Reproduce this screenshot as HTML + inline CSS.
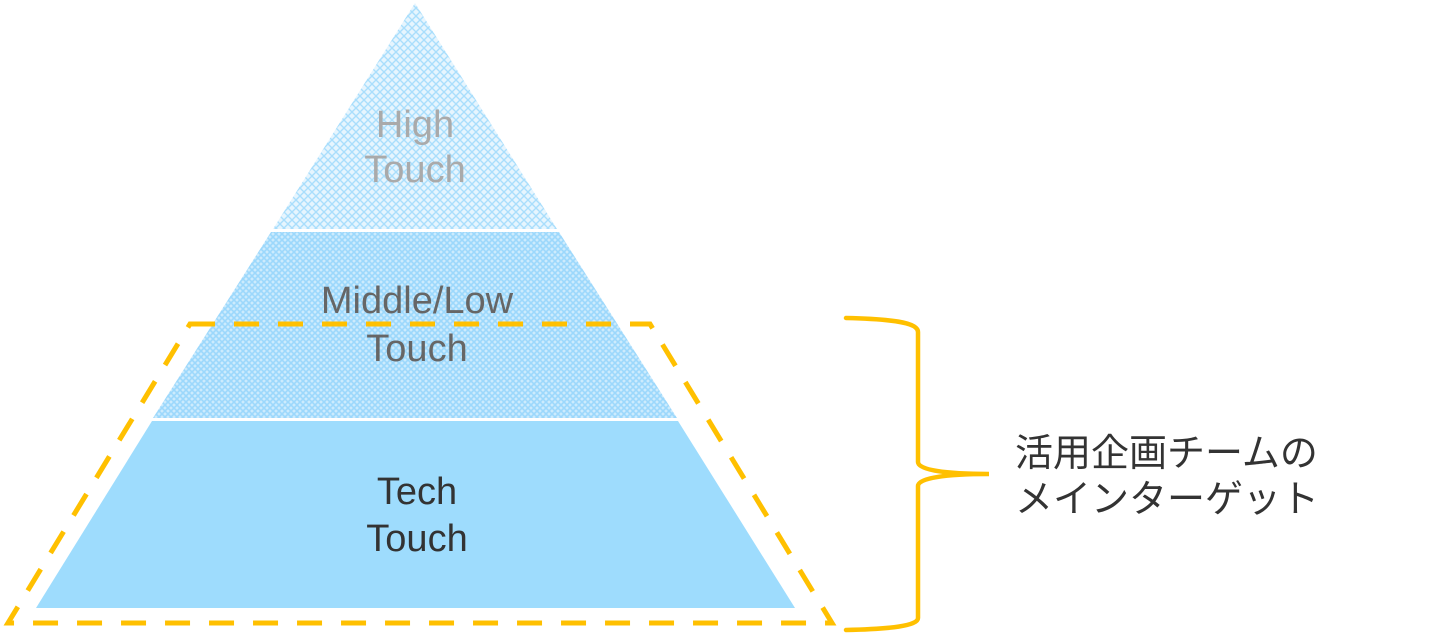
<!DOCTYPE html>
<html><head><meta charset="utf-8"><style>
html,body{margin:0;padding:0;background:#fff;}
svg{display:block}
</style></head><body>
<svg width="1440" height="633" viewBox="0 0 1440 633" xmlns="http://www.w3.org/2000/svg">
<defs>
<pattern id="p1" width="8" height="8" patternUnits="userSpaceOnUse">
<rect width="8" height="8" fill="#e6f5fe"/>
<path d="M0 0L8 8M8 0L0 8" stroke="#a9defc" stroke-width="1.4"/>
</pattern>
<pattern id="p2" width="6" height="6" patternUnits="userSpaceOnUse">
<rect width="6" height="6" fill="#cdebfd"/>
<path d="M0 0L6 6M6 0L0 6" stroke="#9cd8fc" stroke-width="1.6"/>
</pattern>
</defs>
<polygon points="415,3 273,229 557,229" fill="url(#p1)"/>
<polygon points="271,232 559,232 677,418 153,418" fill="url(#p2)"/>
<polygon points="152,421 678,421 795,608 36,608" fill="#9edcfd"/>
<polygon points="190,324 650,324 832,623 8,623" fill="none" stroke="#ffc000" stroke-width="5" stroke-dasharray="25,19"/>
<path d="M846,318 C890,319 918,322 918,332 L918,462 C918,470 945,474 989,474 C945,474 918,478 918,486 L918,618 C918,626 890,629 846,630" fill="none" stroke="#ffc000" stroke-width="4.5" stroke-linecap="round"/>
<g font-family="Liberation Sans, sans-serif" font-size="38" text-anchor="middle">
<text x="415" y="137" fill="#aaaaaa">High</text>
<text x="415" y="182" fill="#aaaaaa">Touch</text>
<text x="417" y="313" fill="#666666">Middle/Low</text>
<text x="417" y="361" fill="#666666">Touch</text>
<text x="417" y="504" fill="#333333">Tech</text>
<text x="417" y="551" fill="#333333">Touch</text>
</g>
<g font-family="Liberation Sans, 'Noto Sans CJK JP', sans-serif" font-size="38" fill="#333333">
<text x="1015" y="466">活用企画チームの</text>
<text x="1015" y="512">メインターゲット</text>
</g>
</svg>
</body></html>
